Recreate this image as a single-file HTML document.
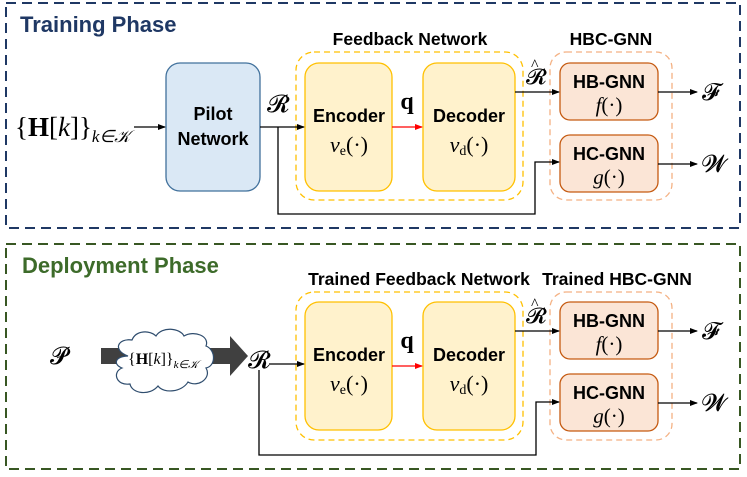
<!DOCTYPE html>
<html><head><meta charset="utf-8"><style>
body{margin:0;background:#fff}
svg{display:block}
.b{font-family:"Liberation Sans",sans-serif;font-weight:bold;fill:#000}
.m{font-family:"Liberation Serif",serif;fill:#000}
.s{font-family:"DejaVu Serif","Liberation Serif",serif;font-weight:normal;fill:#000}
</style></head><body>
<svg width="747" height="477" viewBox="0 0 747 477" xmlns="http://www.w3.org/2000/svg">
<defs>
<marker id="a" markerWidth="8" markerHeight="8" refX="7" refY="4" orient="auto" markerUnits="userSpaceOnUse"><path d="M0,1 L8,4 L0,7 Z" fill="#000"/></marker>
<marker id="r" markerWidth="8" markerHeight="8" refX="7" refY="4" orient="auto" markerUnits="userSpaceOnUse"><path d="M0,1 L8,4 L0,7 Z" fill="#f00"/></marker>
</defs>
<!-- Training frame -->
<rect x="6" y="3" width="734" height="225" fill="none" stroke="#1f3864" stroke-width="2" stroke-dasharray="10,6"/>
<text x="20" y="32" class="b" style="font-size:22px;fill:#1f3864">Training Phase</text>
<text x="410" y="45" class="b" text-anchor="middle" style="font-size:17.5px">Feedback Network</text>
<text x="611" y="45" class="b" text-anchor="middle" style="font-size:17.5px">HBC-GNN</text>
<rect x="296" y="52" width="227" height="148" rx="18" fill="none" stroke="#ffc000" stroke-width="1.3" stroke-dasharray="6,4"/>
<rect x="550" y="52" width="122" height="148" rx="16" fill="none" stroke="#f4b183" stroke-width="1.3" stroke-dasharray="6,4"/>
<rect x="166" y="63" width="94" height="128" rx="14" fill="#dae8f5" stroke="#41719c" stroke-width="1.3"/>
<text x="213" y="120" class="b" text-anchor="middle" style="font-size:18px">Pilot</text>
<text x="213" y="145" class="b" text-anchor="middle" style="font-size:18px">Network</text>
<rect x="305" y="63" width="87" height="128" rx="14" fill="#fff2cc" stroke="#ffc000" stroke-width="1.3"/>
<text x="349" y="122" class="b" text-anchor="middle" style="font-size:18px">Encoder</text>
<text x="349" y="152" class="m" text-anchor="middle" style="font-size:22px"><tspan font-style="italic">v</tspan><tspan font-size="14" dy="3">e</tspan><tspan dy="-3">(·)</tspan></text>
<rect x="423" y="63" width="92" height="128" rx="14" fill="#fff2cc" stroke="#ffc000" stroke-width="1.3"/>
<text x="469" y="122" class="b" text-anchor="middle" style="font-size:18px">Decoder</text>
<text x="469" y="152" class="m" text-anchor="middle" style="font-size:22px"><tspan font-style="italic">v</tspan><tspan font-size="14" dy="3">d</tspan><tspan dy="-3">(·)</tspan></text>
<rect x="560" y="63" width="98" height="57" rx="10" fill="#fbe5d6" stroke="#c55a11" stroke-width="1.3"/>
<text x="609" y="88" class="b" text-anchor="middle" style="font-size:18px">HB-GNN</text>
<text x="609" y="112" class="m" text-anchor="middle" style="font-size:21px"><tspan font-style="italic">f</tspan>(·)</text>
<rect x="560" y="135" width="98" height="57" rx="10" fill="#fbe5d6" stroke="#c55a11" stroke-width="1.3"/>
<text x="609" y="160" class="b" text-anchor="middle" style="font-size:18px">HC-GNN</text>
<text x="609" y="184" class="m" text-anchor="middle" style="font-size:21px"><tspan font-style="italic">g</tspan>(·)</text>
<text x="15" y="136" class="m" style="font-size:27px">{<tspan font-weight="bold">H</tspan>[<tspan font-style="italic">k</tspan>]}<tspan font-size="17" font-style="italic" dy="6">k∈𝒦</tspan></text>
<line x1="134" y1="127" x2="165" y2="127" stroke="#000" stroke-width="1.3" marker-end="url(#a)"/>
<text x="267" y="112" class="s" style="font-size:24px">𝓡</text>
<line x1="260" y1="127" x2="304" y2="127" stroke="#000" stroke-width="1.3" marker-end="url(#a)"/>
<polyline points="278,127 278,214 535,214 535,162 559,162" fill="none" stroke="#000" stroke-width="1.3" marker-end="url(#a)"/>
<line x1="392" y1="127" x2="422" y2="127" stroke="#f00" stroke-width="1.3" marker-end="url(#r)"/>
<text x="407" y="109" class="m" text-anchor="middle" style="font-size:24px;font-weight:bold">q</text>
<text x="526" y="84" class="s" style="font-size:22px">𝓡</text>
<text x="531" y="70" class="m" style="font-size:16px">^</text>
<line x1="515" y1="92" x2="559" y2="92" stroke="#000" stroke-width="1.3" marker-end="url(#a)"/>
<line x1="658" y1="92" x2="697" y2="92" stroke="#000" stroke-width="1.3" marker-end="url(#a)"/>
<line x1="658" y1="164" x2="697" y2="164" stroke="#000" stroke-width="1.3" marker-end="url(#a)"/>
<text x="702" y="100" class="s" style="font-size:24px">𝓕</text>
<text x="702" y="172" class="s" style="font-size:24px">𝓦</text>

<!-- Deployment frame -->
<rect x="6" y="244" width="734" height="225" fill="none" stroke="#385723" stroke-width="2" stroke-dasharray="10,6"/>
<text x="22" y="273" class="b" style="font-size:22px;fill:#3d6b2a">Deployment Phase</text>
<text x="419" y="285" class="b" text-anchor="middle" style="font-size:17.5px">Trained Feedback Network</text>
<text x="617" y="285" class="b" text-anchor="middle" style="font-size:17.5px">Trained HBC-GNN</text>
<rect x="296" y="292" width="227" height="148" rx="18" fill="none" stroke="#ffc000" stroke-width="1.3" stroke-dasharray="6,4"/>
<rect x="550" y="292" width="122" height="148" rx="16" fill="none" stroke="#f4b183" stroke-width="1.3" stroke-dasharray="6,4"/>
<rect x="305" y="302" width="87" height="128" rx="14" fill="#fff2cc" stroke="#ffc000" stroke-width="1.3"/>
<text x="349" y="361" class="b" text-anchor="middle" style="font-size:18px">Encoder</text>
<text x="349" y="391" class="m" text-anchor="middle" style="font-size:22px"><tspan font-style="italic">v</tspan><tspan font-size="14" dy="3">e</tspan><tspan dy="-3">(·)</tspan></text>
<rect x="423" y="302" width="92" height="128" rx="14" fill="#fff2cc" stroke="#ffc000" stroke-width="1.3"/>
<text x="469" y="361" class="b" text-anchor="middle" style="font-size:18px">Decoder</text>
<text x="469" y="391" class="m" text-anchor="middle" style="font-size:22px"><tspan font-style="italic">v</tspan><tspan font-size="14" dy="3">d</tspan><tspan dy="-3">(·)</tspan></text>
<rect x="560" y="302" width="98" height="57" rx="10" fill="#fbe5d6" stroke="#c55a11" stroke-width="1.3"/>
<text x="609" y="327" class="b" text-anchor="middle" style="font-size:18px">HB-GNN</text>
<text x="609" y="351" class="m" text-anchor="middle" style="font-size:21px"><tspan font-style="italic">f</tspan>(·)</text>
<rect x="560" y="374" width="98" height="57" rx="10" fill="#fbe5d6" stroke="#c55a11" stroke-width="1.3"/>
<text x="609" y="399" class="b" text-anchor="middle" style="font-size:18px">HC-GNN</text>
<text x="609" y="423" class="m" text-anchor="middle" style="font-size:21px"><tspan font-style="italic">g</tspan>(·)</text>
<text x="50" y="364" class="s" style="font-size:24px">𝓟</text>
<path d="M101,348 L230,348 L230,336 L248,356 L230,376 L230,364 L101,364 Z" fill="#404040"/>
<path d="M128,356 C112,350 118,338 132,340 C136,330 150,330 156,336 C162,326 180,328 184,336 C194,330 210,336 206,346 C216,350 216,366 206,368 C212,378 198,388 188,382 C182,392 164,394 158,386 C150,396 132,394 130,384 C116,386 112,372 122,368 C112,364 116,356 128,356 Z" fill="#fff" stroke="#2f4d6e" stroke-width="1.2"/>
<text x="128" y="364" class="m" style="font-size:16px">{<tspan font-weight="bold">H</tspan>[<tspan font-style="italic">k</tspan>]}<tspan font-size="11" font-style="italic" dy="4">k∈𝒦</tspan></text>
<text x="248" y="368" class="s" style="font-size:24px">𝓡</text>
<line x1="269" y1="364" x2="304" y2="364" stroke="#000" stroke-width="1.3" marker-end="url(#a)"/>
<polyline points="259,370 259,455 536,455 536,402 559,402" fill="none" stroke="#000" stroke-width="1.3" marker-end="url(#a)"/>
<line x1="392" y1="366" x2="422" y2="366" stroke="#f00" stroke-width="1.3" marker-end="url(#r)"/>
<text x="407" y="348" class="m" text-anchor="middle" style="font-size:24px;font-weight:bold">q</text>
<text x="526" y="323" class="s" style="font-size:22px">𝓡</text>
<text x="531" y="309" class="m" style="font-size:16px">^</text>
<line x1="515" y1="331" x2="559" y2="331" stroke="#000" stroke-width="1.3" marker-end="url(#a)"/>
<line x1="658" y1="331" x2="697" y2="331" stroke="#000" stroke-width="1.3" marker-end="url(#a)"/>
<line x1="658" y1="403" x2="697" y2="403" stroke="#000" stroke-width="1.3" marker-end="url(#a)"/>
<text x="702" y="339" class="s" style="font-size:24px">𝓕</text>
<text x="702" y="411" class="s" style="font-size:24px">𝓦</text>
</svg>
</body></html>
